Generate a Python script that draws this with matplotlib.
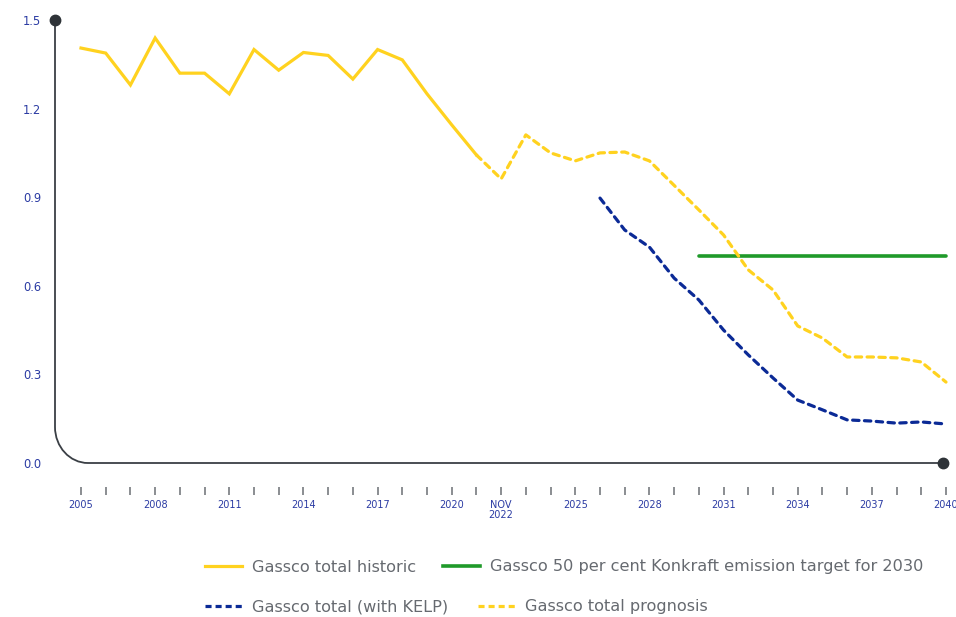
import numpy as np
import matplotlib
matplotlib.use('Agg')
import matplotlib.pyplot as plt
from matplotlib.path import Path
from matplotlib.patches import PathPatch
from matplotlib.lines import Line2D

plt.rcParams['font.family'] = ['DejaVu Sans']

# Emissions, yearly values
hist_years = np.arange(2005, 2022)
hist_vals = [1.405, 1.388, 1.28, 1.439, 1.32, 1.32, 1.25, 1.40, 1.33, 1.39,
             1.38, 1.30, 1.40, 1.365, 1.25, 1.145, 1.043]

prog_years = np.arange(2021, 2041)
prog_vals = [1.043, 0.962, 1.111, 1.05, 1.023, 1.05, 1.053, 1.023, 0.94, 0.857,
             0.772, 0.654, 0.586, 0.464, 0.423, 0.359, 0.359, 0.356, 0.342, 0.274]

kelp_years = np.arange(2026, 2041)
kelp_vals = [0.897, 0.789, 0.731, 0.626, 0.552, 0.45, 0.366, 0.288, 0.213, 0.18,
             0.146, 0.142, 0.135, 0.139, 0.132]

target_years = np.arange(2030, 2041)
target_vals = [0.70] * len(target_years)

tick_years = np.arange(2005, 2041)
label_years = [2005, 2008, 2011, 2014, 2017, 2020, 2022, 2025, 2028, 2031, 2034, 2037, 2040]
label_text = ['NOV\n2022' if y == 2022 else str(y) for y in label_years]
y_ticks = [0.0, 0.3, 0.6, 0.9, 1.2, 1.5]

legend_labels = ['Gassco total historic',
                 'Gassco 50 per cent Konkraft emission target for 2030',
                 'Gassco total (with KELP)',
                 'Gassco total prognosis']

YELLOW = '#FFD21F'
NAVY = '#0B2A96'
GREEN = '#1F9A2A'
AXIS = '#3A3F45'
LABEL = '#2B3BA3'
LEGTXT = '#666A70'

W, H = 956, 617
fig = plt.figure(figsize=(W / 100, H / 100), dpi=100)

# axes box in pixels: x 55..950, y 20..463
px_per_year = (946 - 81) / 35.0
x0 = 2005 - (81 - 55) / px_per_year
x1 = 2040 + (950 - 946) / px_per_year
ax = fig.add_axes([55 / W, (H - 463) / H, (950 - 55) / W, (463 - 20) / H])
ax.set_xlim(x0, x1)
ax.set_ylim(0, 1.5)

lw = 2.3
dash = (2.0, 1.7)
ax.plot(target_years, target_vals, color=GREEN, lw=lw + 0.3, zorder=2,
        solid_capstyle='round')
ax.plot(hist_years, hist_vals, color=YELLOW, lw=lw, zorder=3,
        solid_joinstyle='miter')
ax.plot(prog_years, prog_vals, color=YELLOW, lw=lw, zorder=3,
        dashes=dash, dash_capstyle='round')
ax.plot(kelp_years, kelp_vals, color=NAVY, lw=lw, zorder=3,
        dashes=dash, dash_capstyle='round')

# axis line with a rounded lower-left corner
rx = 33 / px_per_year
ry = 36 / (443 / 1.5)
k = 0.5523
xr = 2040 - 3 / px_per_year
verts = [(x0, 1.5), (x0, ry), (x0, ry * (1 - k)), (x0 + rx * (1 - k), 0),
         (x0 + rx, 0), (xr, 0)]
codes = [Path.MOVETO, Path.LINETO, Path.CURVE4, Path.CURVE4, Path.CURVE4, Path.LINETO]
ax.add_patch(PathPatch(Path(verts, codes), fill=False, edgecolor=AXIS, lw=1.3,
                       clip_on=False, zorder=1))
ax.plot([x0, xr], [1.5, 0], 'o', color='#2E3338', ms=7.5, clip_on=False, zorder=4)

for s in ax.spines.values():
    s.set_visible(False)
ax.spines['bottom'].set_position(('outward', 17.5))

ax.set_xticks(tick_years, minor=True)
ax.set_xticks(label_years)
ax.set_xticklabels(label_text)
ax.tick_params(axis='x', which='both', length=6, width=1.1, color='#6B6F74',
               direction='out', pad=3, labelsize=7.0, labelcolor=LABEL)
ax.set_yticks(y_ticks)
ax.set_yticklabels([f'{v:.1f}' for v in y_ticks])
ax.tick_params(axis='y', length=0, pad=10, labelsize=8.3, labelcolor=LABEL)
for t in ax.get_xticklabels():
    t.set_linespacing(1.0)

# legend entries, placed one by one
def dash_handle(c):
    return Line2D([], [], color=c, lw=lw, dashes=(1.9, 1.25))

handles = [Line2D([], [], color=YELLOW, lw=lw), Line2D([], [], color=GREEN, lw=lw + 0.3),
           dash_handle(NAVY), dash_handle(YELLOW)]
spots = [(205, 567), (443, 567), (205, 607), (478, 607)]
for h, lab, (lx, ly) in zip(handles, legend_labels, spots):
    leg = fig.legend([h], [lab], loc='center left',
                     bbox_to_anchor=(lx / W, 1 - ly / H), frameon=False,
                     fontsize=11.6, handlelength=2.3, handletextpad=0.6,
                     borderaxespad=0, borderpad=0)
    for t in leg.get_texts():
        t.set_color(LEGTXT)

fig.savefig('out.png', dpi=100)
